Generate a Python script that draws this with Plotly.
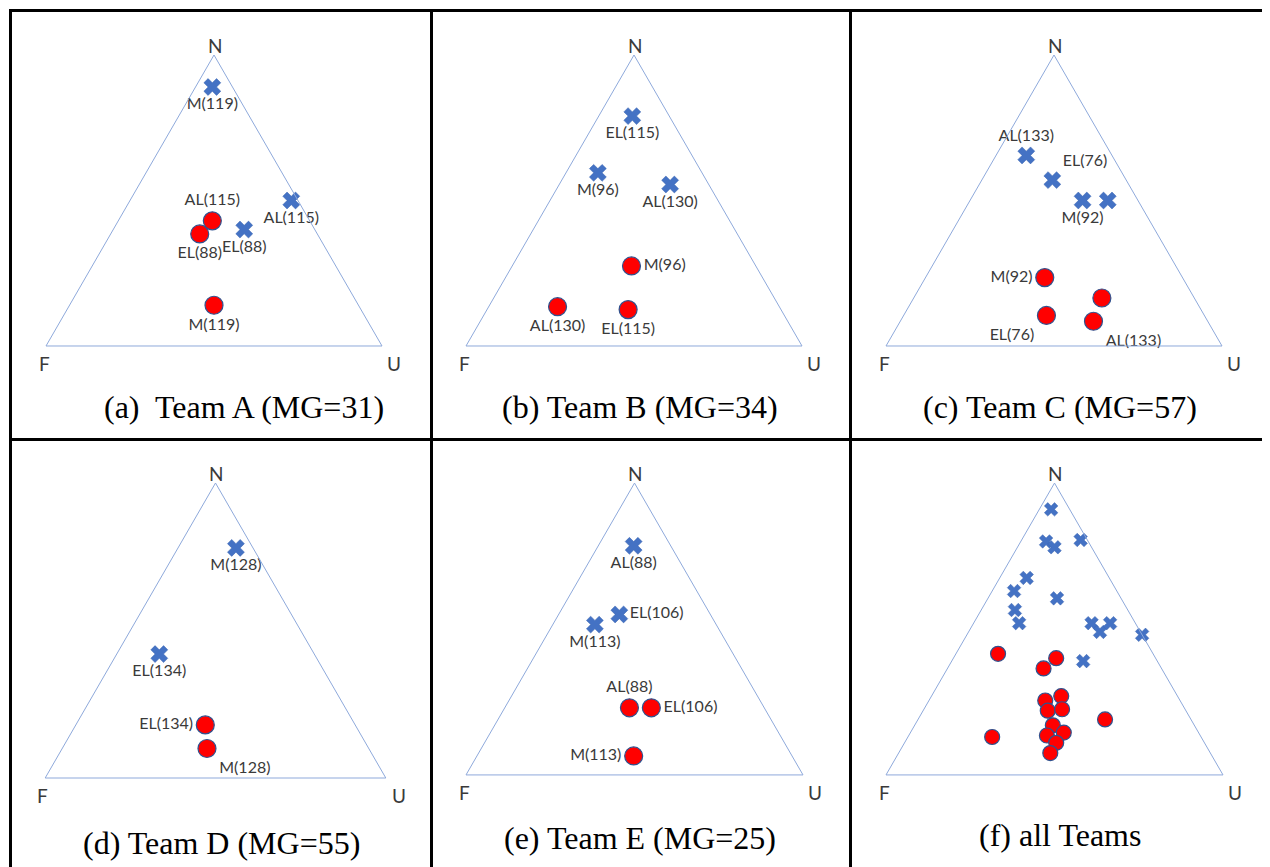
import plotly.graph_objects as go

W, H = 1270, 867
PAGE_OFFSET = 8  # default body margin of the HTML page

# ---------------- data: ternary compositions (N, F, U) ----------------
# (a) Team A
A_CROSS_LABELS = ["M(119)", "AL(115)", "EL(88)"]
A_CROSS_N = [0.89, 0.50, 0.40]
A_CROSS_F = [0.06, 0.02, 0.21]
A_CROSS_U = [0.05, 0.48, 0.39]
A_DOT_LABELS = ["AL(115)", "EL(88)", "M(119)"]
A_DOT_N = [0.43, 0.385, 0.14]
A_DOT_F = [0.29, 0.35, 0.43]
A_DOT_U = [0.28, 0.265, 0.43]

# (b) Team B
B_CROSS_LABELS = ["EL(115)", "M(96)", "AL(130)"]
B_CROSS_N = [0.79, 0.595, 0.555]
B_CROSS_F = [0.11, 0.31, 0.115]
B_CROSS_U = [0.10, 0.095, 0.33]
B_DOT_LABELS = ["M(96)", "AL(130)", "EL(115)"]
B_DOT_N = [0.275, 0.135, 0.125]
B_DOT_F = [0.37, 0.66, 0.455]
B_DOT_U = [0.355, 0.205, 0.42]

# (c) Team C
C_CROSS_LABELS = ["AL(133)", "EL(76)", "M(92)", ""]
C_CROSS_N = [0.655, 0.57, 0.50, 0.50]
C_CROSS_F = [0.255, 0.22, 0.165, 0.09]
C_CROSS_U = [0.09, 0.21, 0.335, 0.41]
C_DOT_LABELS = ["M(92)", "", "EL(76)", "AL(133)"]
C_DOT_N = [0.235, 0.165, 0.105, 0.085]
C_DOT_F = [0.41, 0.275, 0.47, 0.34]
C_DOT_U = [0.355, 0.56, 0.425, 0.575]

# (d) Team D
D_CROSS_LABELS = ["M(128)", "EL(134)"]
D_CROSS_N = [0.78, 0.42]
D_CROSS_F = [0.05, 0.455]
D_CROSS_U = [0.17, 0.125]
D_DOT_LABELS = ["EL(134)", "M(128)"]
D_DOT_N = [0.18, 0.10]
D_DOT_F = [0.44, 0.475]
D_DOT_U = [0.38, 0.425]

# (e) Team E
E_CROSS_LABELS = ["AL(88)", "EL(106)", "M(113)"]
E_CROSS_N = [0.785, 0.55, 0.515]
E_CROSS_F = [0.11, 0.27, 0.36]
E_CROSS_U = [0.105, 0.18, 0.125]
E_DOT_LABELS = ["AL(88)", "EL(106)", "M(113)"]
E_DOT_N = [0.23, 0.23, 0.065]
E_DOT_F = [0.40, 0.335, 0.47]
E_DOT_U = [0.37, 0.435, 0.465]

# (f) all Teams
ALL_CROSS_N = [0.91, 0.80, 0.78, 0.805, 0.675, 0.63, 0.605, 0.565, 0.52, 0.52, 0.49, 0.52, 0.48, 0.39]
ALL_CROSS_F = [0.055, 0.125, 0.11, 0.02, 0.245, 0.305, 0.19, 0.335, 0.345, 0.13, 0.12, 0.075, 0.0, 0.22]
ALL_CROSS_U = [0.035, 0.075, 0.11, 0.175, 0.08, 0.065, 0.205, 0.10, 0.135, 0.35, 0.39, 0.405, 0.52, 0.39]
ALL_DOT_N = [0.415, 0.40, 0.365, 0.255, 0.27, 0.22, 0.225, 0.19, 0.13, 0.17, 0.135, 0.145, 0.11, 0.075]
ALL_DOT_F = [0.46, 0.295, 0.35, 0.40, 0.345, 0.41, 0.365, 0.255, 0.62, 0.42, 0.455, 0.40, 0.44, 0.475]
ALL_DOT_U = [0.125, 0.305, 0.285, 0.345, 0.385, 0.37, 0.41, 0.555, 0.25, 0.41, 0.41, 0.455, 0.45, 0.45]

CAPTIONS = ["(a)\u00a0 Team A (MG=31)", "(b) Team B (MG=34)", "(c) Team C (MG=57)",
            "(d) Team D (MG=55)", "(e) Team E (MG=25)", "(f) all Teams"]
VERTEX_LABELS = ["N", "F", "U"]

# ---------------- layout / style ----------------
# triangle bounding boxes in page pixels: (left, right, top, bottom)
BOXES = [(46, 382, 55, 346), (466, 802, 55, 346), (886, 1222, 55, 346),
         (44, 387, 483, 778), (466, 803, 483, 775), (886, 1223, 483, 775)]
CAPTION_POS = [(244, 407), (640, 407), (1060, 407), (221, 843), (640, 838), (1060, 835)]

panels = [
    (A_CROSS_LABELS, A_CROSS_N, A_CROSS_F, A_CROSS_U, A_DOT_LABELS, A_DOT_N, A_DOT_F, A_DOT_U),
    (B_CROSS_LABELS, B_CROSS_N, B_CROSS_F, B_CROSS_U, B_DOT_LABELS, B_DOT_N, B_DOT_F, B_DOT_U),
    (C_CROSS_LABELS, C_CROSS_N, C_CROSS_F, C_CROSS_U, C_DOT_LABELS, C_DOT_N, C_DOT_F, C_DOT_U),
    (D_CROSS_LABELS, D_CROSS_N, D_CROSS_F, D_CROSS_U, D_DOT_LABELS, D_DOT_N, D_DOT_F, D_DOT_U),
    (E_CROSS_LABELS, E_CROSS_N, E_CROSS_F, E_CROSS_U, E_DOT_LABELS, E_DOT_N, E_DOT_F, E_DOT_U),
    (None, ALL_CROSS_N, ALL_CROSS_F, ALL_CROSS_U, None, ALL_DOT_N, ALL_DOT_F, ALL_DOT_U),
]

CROSS_TEXTPOS = [
    ["bottom center", "bottom center", "bottom center"],
    ["bottom center", "bottom center", "bottom center"],
    ["top center", "top right", "bottom center", "bottom center"],
    ["bottom center", "bottom center"],
    ["bottom center", "middle right", "bottom center"],
    None,
]
DOT_TEXTPOS = [
    ["top center", "bottom center", "bottom center"],
    ["middle right", "bottom center", "bottom center"],
    ["middle left", "bottom center", "bottom left", "bottom right"],
    ["middle left", "bottom right"],
    ["top center", "middle right", "middle left"],
    None,
]

BLUE = "#4472C4"
RED = "#FF0000"
OUTLINE = "#2F528F"
TRI = "#8EA9DB"
LABEL_FONT = dict(family="Lato, Calibri, 'Open Sans', sans-serif", size=16, color="#3A3A3A")
VERTEX_FONT = dict(family="Lato, Calibri, 'Open Sans', sans-serif", size=19, color="#3A3A3A")
CAPTION_FONT = dict(family="'Times New Roman', 'Liberation Serif', serif", size=32, color="#000000")


def px_x(x):
    return (x - PAGE_OFFSET) / W


def px_y(y):
    return 1 - (y - PAGE_OFFSET) / H


fig = go.Figure()
layout_updates = {}
annotations = []

axis_style = dict(showgrid=False, showticklabels=False, ticks="", showline=True,
                  linecolor=TRI, linewidth=1, title=dict(text=""))

for i, (box, data) in enumerate(zip(BOXES, panels)):
    tid = "ternary" if i == 0 else f"ternary{i + 1}"
    l, r, t, b = box
    layout_updates[tid] = dict(
        domain=dict(x=[px_x(l), px_x(r)], y=[px_y(b), px_y(t)]),
        bgcolor="white", sum=1,
        aaxis=axis_style, baxis=axis_style, caxis=axis_style,
    )
    c_lab, c_n, c_f, c_u, d_lab, d_n, d_f, d_u = data
    small = i == 5
    cross_size = 12 if small else 15
    dot_size = 15 if small else 18

    fig.add_trace(go.Scatterternary(
        a=c_n, b=c_f, c=c_u, subplot=tid,
        mode="markers+text" if c_lab else "markers",
        text=c_lab, textposition=CROSS_TEXTPOS[i], textfont=LABEL_FONT,
        cliponaxis=False, showlegend=False, hoverinfo="skip",
        marker=dict(symbol="x", size=cross_size, color=BLUE,
                    line=dict(color="#3A64B0", width=0.5)),
    ))
    fig.add_trace(go.Scatterternary(
        a=d_n, b=d_f, c=d_u, subplot=tid,
        mode="markers+text" if d_lab else "markers",
        text=d_lab, textposition=DOT_TEXTPOS[i], textfont=LABEL_FONT,
        cliponaxis=False, showlegend=False, hoverinfo="skip",
        marker=dict(symbol="circle", size=dot_size, color=RED,
                    line=dict(color=OUTLINE, width=1.2)),
    ))

    # vertex labels
    cx = (l + r) / 2
    for text, (vx, vy) in zip(VERTEX_LABELS, [(cx + 1, t - 9), (l - 2, b + 17), (r + 12, b + 17)]):
        annotations.append(dict(text=text, x=px_x(vx), y=px_y(vy), xref="paper", yref="paper",
                                xanchor="center", yanchor="middle", showarrow=False,
                                font=VERTEX_FONT))
    # caption
    capx, capy = CAPTION_POS[i]
    annotations.append(dict(text=CAPTIONS[i], x=px_x(capx), y=px_y(capy), xref="paper", yref="paper",
                            xanchor="center", yanchor="middle", showarrow=False,
                            font=CAPTION_FONT))

# table grid lines (page pixels)
shapes = []
line = dict(color="black", width=3)
for (x0, y0, x1, y1) in [(9, 10.5, W + PAGE_OFFSET, 10.5), (9, 439.5, W + PAGE_OFFSET, 439.5),
                         (10.5, 9, 10.5, H + PAGE_OFFSET), (431.5, 9, 431.5, H + PAGE_OFFSET),
                         (850.5, 9, 850.5, H + PAGE_OFFSET)]:
    shapes.append(dict(type="line", xref="paper", yref="paper",
                       x0=px_x(x0), y0=px_y(y0), x1=px_x(x1), y1=px_y(y1), line=line))

fig.update_layout(
    width=W, height=H,
    margin=dict(l=0, r=0, t=0, b=0),
    paper_bgcolor="white", plot_bgcolor="white",
    annotations=annotations, shapes=shapes,
    **layout_updates,
)

fig.write_html("out.html")
